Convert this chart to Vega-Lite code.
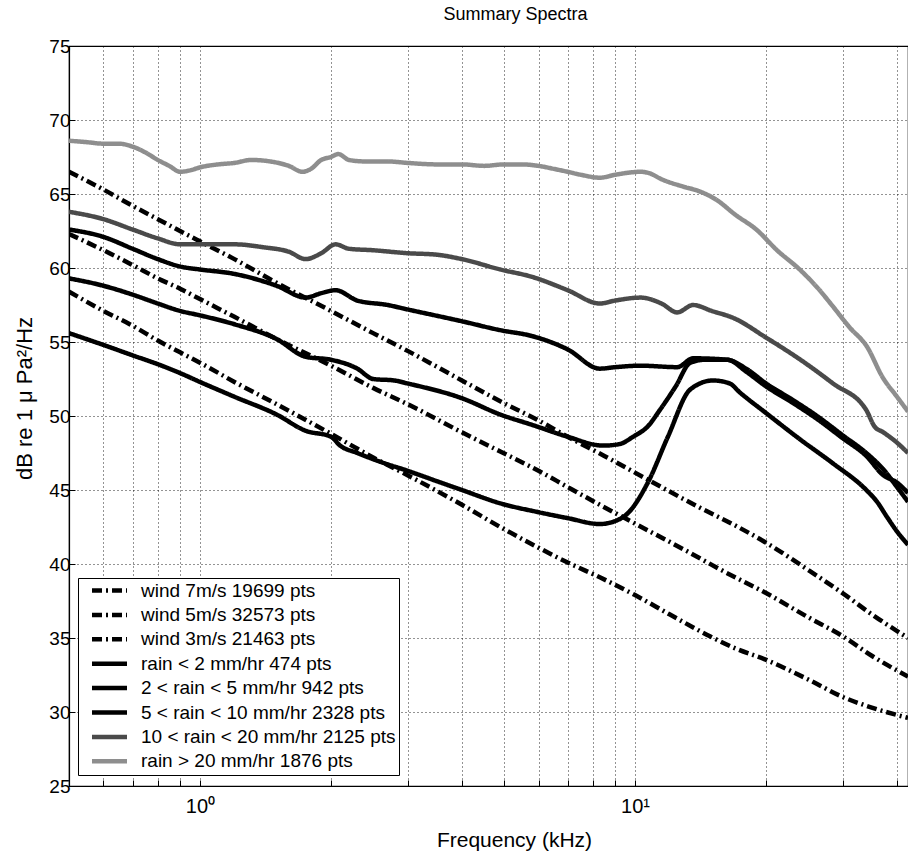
{
  "$schema": "https://vega.github.io/schema/vega-lite/v6.json",
  "width": 839,
  "height": 740,
  "autosize": {"type": "none"},
  "padding": {"left": 69, "top": 46, "right": 0, "bottom": 71},
  "config": {
    "font": "Liberation Sans",
    "view": {"stroke": "black", "strokeWidth": 1.2},
    "axis": {
      "domainColor": "black",
      "domainWidth": 1.2,
      "tickColor": "black",
      "labelColor": "black",
      "titleColor": "black",
      "titleFontSize": 21,
      "titleFontWeight": "normal",
      "grid": true,
      "gridColor": "black",
      "gridDash": [1, 3],
      "gridWidth": 1,
      "gridOpacity": 0.85
    }
  },
  "title": {
    "text": "Summary Spectra",
    "fontSize": 18,
    "fontWeight": "normal",
    "color": "black",
    "anchor": "middle",
    "offset": 13,
    "dx": 27
  },
  "data": {
    "values": [
      {"k": "w7", "f": 0.5, "db": 66.5}, {"k": "w7", "f": 0.6, "db": 65.3}, {"k": "w7", "f": 0.7, "db": 64.2},
      {"k": "w7", "f": 0.8, "db": 63.3}, {"k": "w7", "f": 0.9, "db": 62.5}, {"k": "w7", "f": 1.0, "db": 61.8},
      {"k": "w7", "f": 1.2, "db": 60.6}, {"k": "w7", "f": 1.5, "db": 59.0}, {"k": "w7", "f": 2.0, "db": 57.1},
      {"k": "w7", "f": 2.5, "db": 55.6}, {"k": "w7", "f": 3.0, "db": 54.4}, {"k": "w7", "f": 4.0, "db": 52.4},
      {"k": "w7", "f": 4.9, "db": 51.0}, {"k": "w7", "f": 6.0, "db": 49.7}, {"k": "w7", "f": 7.0, "db": 48.6},
      {"k": "w7", "f": 8.5, "db": 47.3}, {"k": "w7", "f": 10.7, "db": 45.7}, {"k": "w7", "f": 14.1, "db": 43.8},
      {"k": "w7", "f": 17.0, "db": 42.6}, {"k": "w7", "f": 20.1, "db": 41.4}, {"k": "w7", "f": 25.0, "db": 39.6},
      {"k": "w7", "f": 30.1, "db": 38.0}, {"k": "w7", "f": 35.0, "db": 36.6}, {"k": "w7", "f": 42.4, "db": 35.0},

      {"k": "w5", "f": 0.5, "db": 62.3}, {"k": "w5", "f": 0.6, "db": 61.2}, {"k": "w5", "f": 0.7, "db": 60.2},
      {"k": "w5", "f": 0.8, "db": 59.3}, {"k": "w5", "f": 0.9, "db": 58.6}, {"k": "w5", "f": 1.0, "db": 57.9},
      {"k": "w5", "f": 1.2, "db": 56.7}, {"k": "w5", "f": 1.5, "db": 55.2}, {"k": "w5", "f": 2.0, "db": 53.4},
      {"k": "w5", "f": 2.5, "db": 51.9}, {"k": "w5", "f": 3.0, "db": 50.8}, {"k": "w5", "f": 4.0, "db": 48.9},
      {"k": "w5", "f": 4.9, "db": 47.6}, {"k": "w5", "f": 6.0, "db": 46.3}, {"k": "w5", "f": 7.0, "db": 45.2},
      {"k": "w5", "f": 8.3, "db": 44.0}, {"k": "w5", "f": 9.9, "db": 42.8}, {"k": "w5", "f": 13.1, "db": 40.9},
      {"k": "w5", "f": 16.0, "db": 39.5}, {"k": "w5", "f": 20.1, "db": 38.0}, {"k": "w5", "f": 25.0, "db": 36.4},
      {"k": "w5", "f": 30.1, "db": 35.1}, {"k": "w5", "f": 35.0, "db": 33.8}, {"k": "w5", "f": 42.4, "db": 32.4},

      {"k": "w3", "f": 0.5, "db": 58.4}, {"k": "w3", "f": 0.6, "db": 57.1}, {"k": "w3", "f": 0.7, "db": 56.1},
      {"k": "w3", "f": 0.8, "db": 55.1}, {"k": "w3", "f": 0.9, "db": 54.3}, {"k": "w3", "f": 1.0, "db": 53.6},
      {"k": "w3", "f": 1.2, "db": 52.3}, {"k": "w3", "f": 1.5, "db": 50.8}, {"k": "w3", "f": 2.0, "db": 48.8},
      {"k": "w3", "f": 2.5, "db": 47.2}, {"k": "w3", "f": 3.0, "db": 46.0}, {"k": "w3", "f": 4.0, "db": 44.0},
      {"k": "w3", "f": 4.9, "db": 42.5}, {"k": "w3", "f": 6.0, "db": 41.1}, {"k": "w3", "f": 7.0, "db": 40.1},
      {"k": "w3", "f": 8.3, "db": 39.1}, {"k": "w3", "f": 10.0, "db": 37.9}, {"k": "w3", "f": 12.0, "db": 36.6},
      {"k": "w3", "f": 14.9, "db": 35.1}, {"k": "w3", "f": 17.0, "db": 34.3}, {"k": "w3", "f": 20.1, "db": 33.5},
      {"k": "w3", "f": 25.0, "db": 32.2}, {"k": "w3", "f": 30.1, "db": 31.0}, {"k": "w3", "f": 35.0, "db": 30.3},
      {"k": "w3", "f": 42.4, "db": 29.6},

      {"k": "r0", "f": 0.5, "db": 55.6}, {"k": "r0", "f": 0.6, "db": 54.8}, {"k": "r0", "f": 0.7, "db": 54.1},
      {"k": "r0", "f": 0.8, "db": 53.5}, {"k": "r0", "f": 0.9, "db": 52.9}, {"k": "r0", "f": 1.0, "db": 52.3},
      {"k": "r0", "f": 1.2, "db": 51.3}, {"k": "r0", "f": 1.5, "db": 50.1}, {"k": "r0", "f": 1.75, "db": 49.0},
      {"k": "r0", "f": 2.0, "db": 48.6}, {"k": "r0", "f": 2.1, "db": 48.0}, {"k": "r0", "f": 2.3, "db": 47.5},
      {"k": "r0", "f": 2.6, "db": 46.9}, {"k": "r0", "f": 3.0, "db": 46.3}, {"k": "r0", "f": 3.5, "db": 45.6},
      {"k": "r0", "f": 4.0, "db": 45.0}, {"k": "r0", "f": 4.9, "db": 44.1}, {"k": "r0", "f": 6.0, "db": 43.5},
      {"k": "r0", "f": 7.0, "db": 43.1}, {"k": "r0", "f": 8.3, "db": 42.7}, {"k": "r0", "f": 9.0, "db": 42.9},
      {"k": "r0", "f": 9.6, "db": 43.4}, {"k": "r0", "f": 10.7, "db": 45.5}, {"k": "r0", "f": 11.9, "db": 48.6},
      {"k": "r0", "f": 13.4, "db": 51.8}, {"k": "r0", "f": 15.1, "db": 52.4}, {"k": "r0", "f": 16.5, "db": 52.2},
      {"k": "r0", "f": 17.4, "db": 51.6}, {"k": "r0", "f": 20.0, "db": 50.2}, {"k": "r0", "f": 24.0, "db": 48.4},
      {"k": "r0", "f": 28.5, "db": 46.8}, {"k": "r0", "f": 34.0, "db": 45.0}, {"k": "r0", "f": 36.0, "db": 44.2},
      {"k": "r0", "f": 37.9, "db": 43.2}, {"k": "r0", "f": 40.0, "db": 42.2}, {"k": "r0", "f": 42.4, "db": 41.3},

      {"k": "r2", "f": 0.5, "db": 59.3}, {"k": "r2", "f": 0.6, "db": 58.8}, {"k": "r2", "f": 0.7, "db": 58.2},
      {"k": "r2", "f": 0.8, "db": 57.6}, {"k": "r2", "f": 0.9, "db": 57.1}, {"k": "r2", "f": 1.0, "db": 56.8},
      {"k": "r2", "f": 1.2, "db": 56.2}, {"k": "r2", "f": 1.5, "db": 55.2}, {"k": "r2", "f": 1.75, "db": 54.0},
      {"k": "r2", "f": 2.0, "db": 53.8}, {"k": "r2", "f": 2.3, "db": 53.2}, {"k": "r2", "f": 2.5, "db": 52.5},
      {"k": "r2", "f": 2.8, "db": 52.4}, {"k": "r2", "f": 3.0, "db": 52.2}, {"k": "r2", "f": 4.0, "db": 51.2},
      {"k": "r2", "f": 4.9, "db": 50.1}, {"k": "r2", "f": 5.8, "db": 49.4}, {"k": "r2", "f": 7.0, "db": 48.6},
      {"k": "r2", "f": 8.45, "db": 48.0}, {"k": "r2", "f": 9.2, "db": 48.1}, {"k": "r2", "f": 9.9, "db": 48.6},
      {"k": "r2", "f": 10.7, "db": 49.3}, {"k": "r2", "f": 11.4, "db": 50.4}, {"k": "r2", "f": 12.4, "db": 52.0},
      {"k": "r2", "f": 13.4, "db": 53.6}, {"k": "r2", "f": 14.5, "db": 53.8}, {"k": "r2", "f": 16.3, "db": 53.8},
      {"k": "r2", "f": 18.0, "db": 53.0}, {"k": "r2", "f": 20.0, "db": 52.0}, {"k": "r2", "f": 23.0, "db": 50.9},
      {"k": "r2", "f": 26.2, "db": 49.8}, {"k": "r2", "f": 30.0, "db": 48.5}, {"k": "r2", "f": 34.0, "db": 47.3},
      {"k": "r2", "f": 37.2, "db": 46.0}, {"k": "r2", "f": 40.0, "db": 45.5}, {"k": "r2", "f": 42.4, "db": 44.8},

      {"k": "r5", "f": 0.5, "db": 62.6}, {"k": "r5", "f": 0.6, "db": 62.1}, {"k": "r5", "f": 0.7, "db": 61.3},
      {"k": "r5", "f": 0.8, "db": 60.6}, {"k": "r5", "f": 0.9, "db": 60.1}, {"k": "r5", "f": 1.0, "db": 59.9},
      {"k": "r5", "f": 1.2, "db": 59.6}, {"k": "r5", "f": 1.5, "db": 58.8}, {"k": "r5", "f": 1.75, "db": 58.0},
      {"k": "r5", "f": 1.9, "db": 58.3}, {"k": "r5", "f": 2.05, "db": 58.5}, {"k": "r5", "f": 2.3, "db": 57.8},
      {"k": "r5", "f": 2.7, "db": 57.5}, {"k": "r5", "f": 3.0, "db": 57.2}, {"k": "r5", "f": 4.0, "db": 56.4},
      {"k": "r5", "f": 4.9, "db": 55.8}, {"k": "r5", "f": 5.8, "db": 55.4}, {"k": "r5", "f": 7.0, "db": 54.5},
      {"k": "r5", "f": 8.3, "db": 53.2}, {"k": "r5", "f": 9.0, "db": 53.3}, {"k": "r5", "f": 10.3, "db": 53.4},
      {"k": "r5", "f": 12.5, "db": 53.3}, {"k": "r5", "f": 13.6, "db": 53.9}, {"k": "r5", "f": 16.3, "db": 53.8},
      {"k": "r5", "f": 18.0, "db": 53.2}, {"k": "r5", "f": 20.0, "db": 52.2}, {"k": "r5", "f": 23.0, "db": 51.1},
      {"k": "r5", "f": 26.2, "db": 50.0}, {"k": "r5", "f": 30.0, "db": 48.7}, {"k": "r5", "f": 34.0, "db": 47.5},
      {"k": "r5", "f": 37.2, "db": 46.4}, {"k": "r5", "f": 40.0, "db": 45.2}, {"k": "r5", "f": 42.4, "db": 44.2},

      {"k": "r10", "f": 0.5, "db": 63.8}, {"k": "r10", "f": 0.6, "db": 63.3}, {"k": "r10", "f": 0.7, "db": 62.6},
      {"k": "r10", "f": 0.8, "db": 62.0}, {"k": "r10", "f": 0.9, "db": 61.6}, {"k": "r10", "f": 1.0, "db": 61.6},
      {"k": "r10", "f": 1.2, "db": 61.6}, {"k": "r10", "f": 1.4, "db": 61.4}, {"k": "r10", "f": 1.6, "db": 61.1},
      {"k": "r10", "f": 1.75, "db": 60.6}, {"k": "r10", "f": 1.9, "db": 61.0}, {"k": "r10", "f": 2.05, "db": 61.6},
      {"k": "r10", "f": 2.2, "db": 61.3}, {"k": "r10", "f": 2.5, "db": 61.2}, {"k": "r10", "f": 3.0, "db": 61.0},
      {"k": "r10", "f": 3.5, "db": 60.9}, {"k": "r10", "f": 4.0, "db": 60.6}, {"k": "r10", "f": 4.9, "db": 59.9},
      {"k": "r10", "f": 5.8, "db": 59.4}, {"k": "r10", "f": 7.0, "db": 58.5}, {"k": "r10", "f": 8.3, "db": 57.6},
      {"k": "r10", "f": 9.0, "db": 57.8}, {"k": "r10", "f": 10.3, "db": 58.0}, {"k": "r10", "f": 11.5, "db": 57.6},
      {"k": "r10", "f": 12.5, "db": 57.0}, {"k": "r10", "f": 13.6, "db": 57.5}, {"k": "r10", "f": 15.0, "db": 57.1},
      {"k": "r10", "f": 16.9, "db": 56.6}, {"k": "r10", "f": 20.0, "db": 55.3}, {"k": "r10", "f": 24.0, "db": 53.8},
      {"k": "r10", "f": 28.5, "db": 52.2}, {"k": "r10", "f": 34.0, "db": 50.4}, {"k": "r10", "f": 35.5, "db": 49.3},
      {"k": "r10", "f": 37.2, "db": 48.9}, {"k": "r10", "f": 40.0, "db": 48.2}, {"k": "r10", "f": 42.4, "db": 47.5},

      {"k": "r20", "f": 0.5, "db": 68.6}, {"k": "r20", "f": 0.55, "db": 68.5}, {"k": "r20", "f": 0.6, "db": 68.4},
      {"k": "r20", "f": 0.65, "db": 68.4}, {"k": "r20", "f": 0.7, "db": 68.2}, {"k": "r20", "f": 0.75, "db": 67.8},
      {"k": "r20", "f": 0.8, "db": 67.3}, {"k": "r20", "f": 0.85, "db": 66.9}, {"k": "r20", "f": 0.9, "db": 66.5},
      {"k": "r20", "f": 0.95, "db": 66.6}, {"k": "r20", "f": 1.0, "db": 66.8}, {"k": "r20", "f": 1.1, "db": 67.0},
      {"k": "r20", "f": 1.2, "db": 67.1}, {"k": "r20", "f": 1.31, "db": 67.3}, {"k": "r20", "f": 1.45, "db": 67.2},
      {"k": "r20", "f": 1.6, "db": 66.9}, {"k": "r20", "f": 1.72, "db": 66.5}, {"k": "r20", "f": 1.8, "db": 66.7},
      {"k": "r20", "f": 1.9, "db": 67.3}, {"k": "r20", "f": 2.0, "db": 67.5}, {"k": "r20", "f": 2.08, "db": 67.7},
      {"k": "r20", "f": 2.2, "db": 67.3}, {"k": "r20", "f": 2.4, "db": 67.2}, {"k": "r20", "f": 2.7, "db": 67.2},
      {"k": "r20", "f": 3.0, "db": 67.1}, {"k": "r20", "f": 3.5, "db": 67.0}, {"k": "r20", "f": 4.0, "db": 67.0},
      {"k": "r20", "f": 4.5, "db": 66.9}, {"k": "r20", "f": 5.0, "db": 67.0}, {"k": "r20", "f": 5.5, "db": 67.0},
      {"k": "r20", "f": 6.0, "db": 66.9}, {"k": "r20", "f": 6.5, "db": 66.7}, {"k": "r20", "f": 7.0, "db": 66.5},
      {"k": "r20", "f": 7.5, "db": 66.3}, {"k": "r20", "f": 8.3, "db": 66.1}, {"k": "r20", "f": 9.0, "db": 66.3},
      {"k": "r20", "f": 10.3, "db": 66.5}, {"k": "r20", "f": 10.8, "db": 66.4}, {"k": "r20", "f": 11.5, "db": 66.0},
      {"k": "r20", "f": 12.9, "db": 65.5}, {"k": "r20", "f": 14.0, "db": 65.2}, {"k": "r20", "f": 15.4, "db": 64.6},
      {"k": "r20", "f": 17.0, "db": 63.6}, {"k": "r20", "f": 19.0, "db": 62.6}, {"k": "r20", "f": 21.2, "db": 61.2},
      {"k": "r20", "f": 23.9, "db": 59.9}, {"k": "r20", "f": 26.2, "db": 58.7}, {"k": "r20", "f": 28.5, "db": 57.4},
      {"k": "r20", "f": 31.1, "db": 56.0}, {"k": "r20", "f": 34.1, "db": 54.7}, {"k": "r20", "f": 37.1, "db": 52.6},
      {"k": "r20", "f": 40.0, "db": 51.3}, {"k": "r20", "f": 42.4, "db": 50.3}
    ]
  },
  "transform": [
    {
      "lookup": "k",
      "from": {
        "data": {
          "values": [
            {"k": "w7", "name": "wind 7m/s 19699 pts"},
            {"k": "w5", "name": "wind 5m/s 32573 pts"},
            {"k": "w3", "name": "wind 3m/s 21463 pts"},
            {"k": "r0", "name": "rain < 2 mm/hr 474 pts"},
            {"k": "r2", "name": "2 < rain < 5 mm/hr 942 pts"},
            {"k": "r5", "name": "5 < rain < 10 mm/hr 2328 pts"},
            {"k": "r10", "name": "10 < rain < 20 mm/hr 2125 pts"},
            {"k": "r20", "name": "rain > 20 mm/hr 1876 pts"}
          ]
        },
        "key": "k",
        "fields": ["name"]
      }
    }
  ],
  "mark": {"type": "line", "clip": true, "strokeCap": "butt", "strokeJoin": "round", "interpolate": "monotone"},
  "encoding": {
    "x": {
      "field": "f",
      "type": "quantitative",
      "scale": {"type": "log", "domain": [0.5, 42.4], "nice": false},
      "axis": {
        "title": "Frequency (kHz)",
        "values": [0.5, 0.6, 0.7, 0.8, 0.9, 1, 2, 3, 4, 5, 6, 7, 8, 9, 10, 20, 30, 40],
        "labelExpr": "datum.value == 1 ? '10⁰' : (datum.value == 10 ? '10¹' : '')",
        "labelOverlap": false,
        "labelFlush": false,
        "labelFontSize": 20,
        "tickSize": -6,
        "labelPadding": 16,
        "titleX": 445,
        "titleY": 60,
        "titleAlign": "center",
        "titleBaseline": "alphabetic"
      }
    },
    "y": {
      "field": "db",
      "type": "quantitative",
      "scale": {"domain": [25, 75], "nice": false, "zero": false},
      "axis": {
        "title": "dB re 1 μ Pa²/Hz",
        "values": [25, 30, 35, 40, 45, 50, 55, 60, 65, 70, 75],
        "labelFontSize": 19,
        "tickSize": -6,
        "labelPadding": 5,
        "titleFontSize": 22,
        "titleX": -45,
        "titleY": 352,
        "titleAngle": -90,
        "titleAlign": "center",
        "titleBaseline": "middle"
      }
    },
    "color": {
      "field": "name",
      "type": "nominal",
      "sort": null,
      "scale": {
        "domain": ["wind 7m/s 19699 pts", "wind 5m/s 32573 pts", "wind 3m/s 21463 pts", "rain < 2 mm/hr 474 pts", "2 < rain < 5 mm/hr 942 pts", "5 < rain < 10 mm/hr 2328 pts", "10 < rain < 20 mm/hr 2125 pts", "rain > 20 mm/hr 1876 pts"],
        "range": ["#000000", "#000000", "#000000", "#000000", "#000000", "#000000", "#4a4a4a", "#8e8e8e"]
      },
      "legend": {
        "title": null,
        "orient": "none",
        "legendX": 9,
        "legendY": 532,
        "padding": 3,
        "fillColor": "white",
        "strokeColor": "black",
        "labelFontSize": 19,
        "labelColor": "black",
        "labelLimit": 0,
        "labelOffset": 22,
        "symbolType": "M-3.5,0H3.5",
        "symbolSize": 100,
        "symbolOffset": 19,
        "symbolStrokeWidth": 4.5,
        "rowPadding": 4.4
      }
    },
    "strokeDash": {
      "field": "name",
      "type": "nominal",
      "sort": null,
      "scale": {
        "domain": ["wind 7m/s 19699 pts", "wind 5m/s 32573 pts", "wind 3m/s 21463 pts", "rain < 2 mm/hr 474 pts", "2 < rain < 5 mm/hr 942 pts", "5 < rain < 10 mm/hr 2328 pts", "10 < rain < 20 mm/hr 2125 pts", "rain > 20 mm/hr 1876 pts"],
        "range": [[10, 4, 2, 4], [10, 4, 2, 4], [10, 4, 2, 4], [1, 0], [1, 0], [1, 0], [1, 0], [1, 0]]
      },
      "legend": {"title": null}
    },
    "strokeWidth": {
      "field": "name",
      "type": "nominal",
      "sort": null,
      "scale": {
        "domain": ["wind 7m/s 19699 pts", "wind 5m/s 32573 pts", "wind 3m/s 21463 pts", "rain < 2 mm/hr 474 pts", "2 < rain < 5 mm/hr 942 pts", "5 < rain < 10 mm/hr 2328 pts", "10 < rain < 20 mm/hr 2125 pts", "rain > 20 mm/hr 1876 pts"],
        "range": [4.5, 4.5, 4.5, 5, 5, 5, 4.5, 4.5]
      },
      "legend": {"title": null}
    }
  }
}
